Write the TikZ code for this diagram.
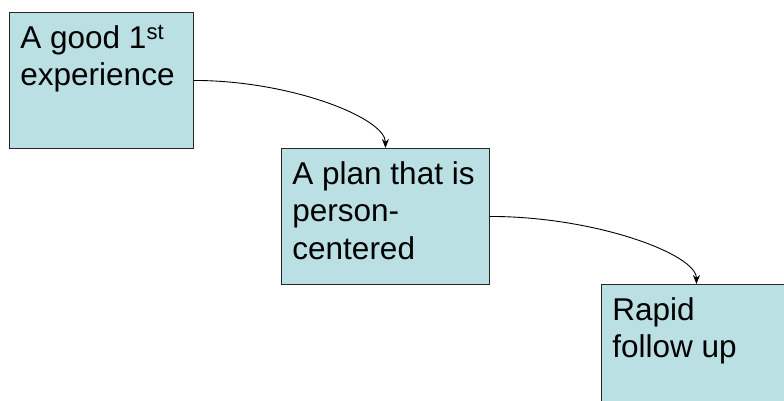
\documentclass[tikz,border=0pt]{standalone}
\usepackage{fontspec}
\setmainfont{Liberation Sans}
\usetikzlibrary{arrows.meta}
\definecolor{boxfill}{RGB}{187,224,228}
\newcommand{\boxtxt}[2]{\parbox[t][116.8pt][t]{#1}{\raggedright\strut #2}}
\begin{document}
\begin{tikzpicture}[x=1pt,y=1pt,
  box/.style={draw=black!85, line width=0.9pt, fill=boxfill, inner xsep=11pt, inner ysep=9.6pt, anchor=north west, font=\fontsize{31.5}{37.5}\selectfont},
  conn/.style={draw=black, line width=0.9pt, -{Stealth[length=9pt,width=7pt]}}]
\useasboundingbox (0,0) rectangle (784,-401);
\clip (0,0) rectangle (784,-401);
\fill[white] (0,0) rectangle (784,-401);
\node[box] (b1) at (9,-12) {\boxtxt{162pt}{A good 1\textsuperscript{st}\\experience}};
\node[box] (b2) at (281,-148) {\boxtxt{186pt}{A plan that is\\person-\\centered}};
\node[box] (b3) at (601,-284) {\boxtxt{168pt}{Rapid\\follow up}};
\draw[conn] (b1.east) .. controls +(97,0) and +(0,30) .. (b2.north);
\draw[conn] (b2.east) .. controls +(105,0) and +(0,30) .. (b3.north);
\end{tikzpicture}
\end{document}
